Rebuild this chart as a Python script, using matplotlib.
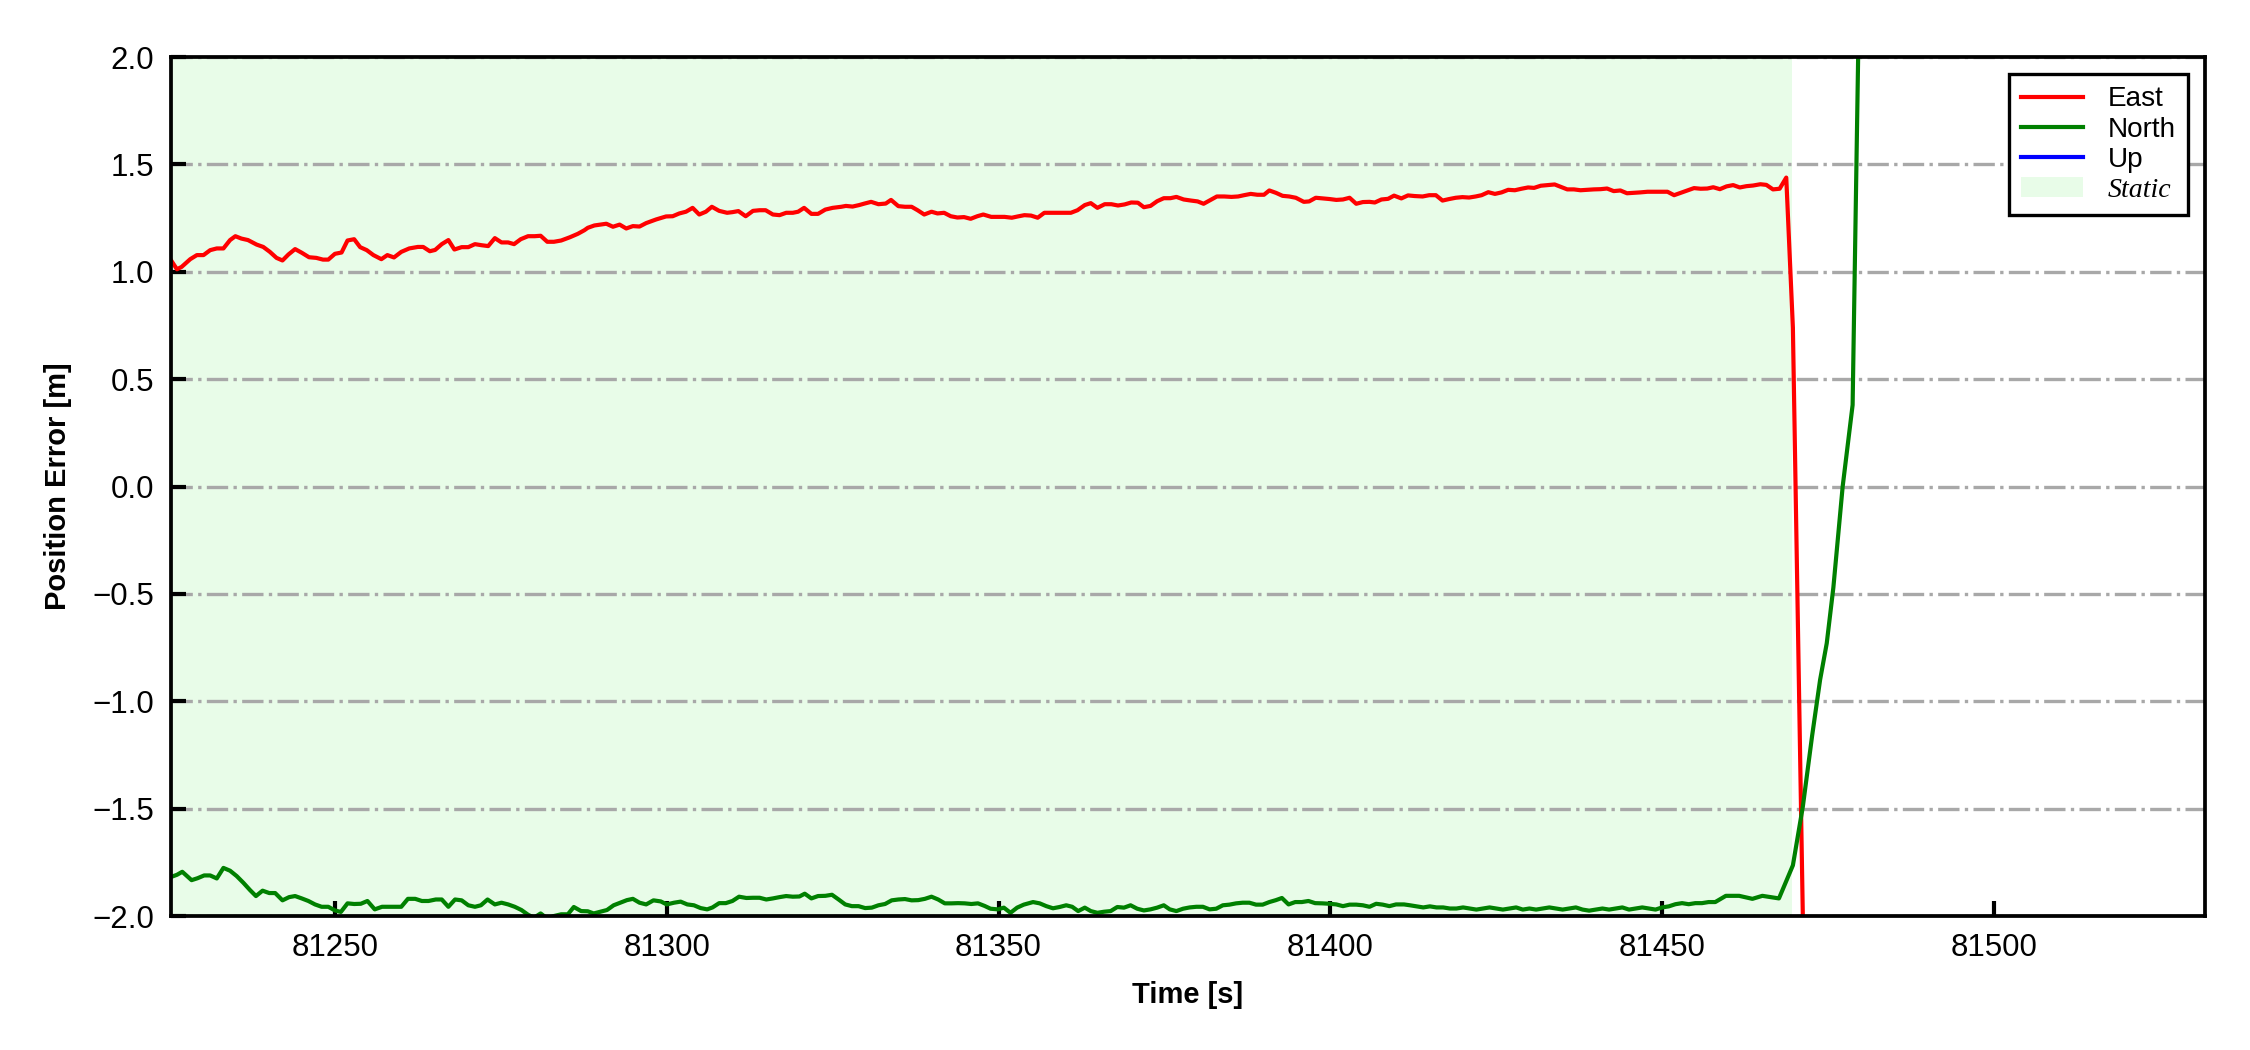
import matplotlib
matplotlib.use('Agg')
import matplotlib.pyplot as plt
import numpy as np

# ---- data ----
east_t = [81225.3, 81226.2, 81226.9, 81228.2, 81229.2, 81230.2, 81231.2, 81232.2, 81233.2, 81234.2,
          81235.0, 81235.9, 81236.9, 81238.2, 81239.2, 81240.2, 81241.2, 81242.1, 81243.0, 81244.0,
          81245.0, 81246.1, 81247.2, 81248.2, 81249.0, 81250.0, 81251.0, 81251.9, 81252.9, 81253.8,
          81254.8, 81255.8, 81257.0, 81257.9, 81258.9, 81260.0, 81261.2, 81262.5, 81263.3, 81264.3,
          81265.1, 81266.1, 81267.1, 81268.0, 81269.1, 81270.1, 81271.1, 81272.1, 81273.1, 81274.1,
          81275.1, 81276.1, 81277.0, 81278.0, 81279.1, 81280.1, 81281.0, 81282.0, 81283.0, 81284.1,
          81285.4, 81286.6, 81287.6, 81288.1, 81289.1, 81290.9, 81291.9, 81292.9, 81293.9, 81294.9,
          81295.9, 81296.9, 81298.4, 81299.9, 81300.9, 81301.9, 81302.9, 81303.9, 81304.9, 81305.9,
          81306.8, 81307.9, 81309.1, 81309.9, 81310.8, 81311.9, 81313.0, 81314.0, 81314.9, 81316.0,
          81317.0, 81318.0, 81319.0, 81319.8, 81320.7, 81321.8, 81322.8, 81323.9, 81325.0, 81326.3,
          81327.0, 81328.0, 81329.0, 81329.8, 81330.8, 81331.9, 81333.0, 81333.8, 81334.9, 81335.9,
          81336.9, 81337.8, 81338.8, 81339.9, 81340.8, 81341.8, 81342.8, 81343.8, 81344.8, 81345.8,
          81346.8, 81347.7, 81348.9, 81349.9, 81350.9, 81352.0, 81352.9, 81353.9, 81354.9, 81355.9,
          81356.9, 81357.9, 81358.9, 81359.9, 81360.9, 81361.9, 81363.0, 81363.9, 81364.9, 81366.0,
          81367.0, 81368.0, 81369.0, 81370.0, 81371.0, 81371.9, 81372.9, 81373.9, 81374.9, 81375.9,
          81376.8, 81377.9, 81379.0, 81380.0, 81380.9, 81381.9, 81382.9, 81384.0, 81385.1, 81386.1,
          81387.0, 81388.0, 81389.0, 81390.0, 81390.8, 81391.8, 81392.8, 81393.8, 81394.8, 81396.0,
          81396.8, 81397.8, 81398.9, 81399.9, 81400.9, 81401.9, 81402.9, 81403.9, 81404.9, 81405.9,
          81406.7, 81407.7, 81408.7, 81409.6, 81410.7, 81411.7, 81412.7, 81413.9, 81414.9, 81415.9,
          81416.9, 81417.9, 81418.9, 81419.9, 81420.9, 81421.9, 81422.8, 81423.8, 81424.8, 81425.8,
          81426.8, 81427.8, 81428.8, 81429.8, 81430.7, 81431.7, 81432.8, 81433.8, 81434.7, 81435.7,
          81436.7, 81437.7, 81438.7, 81439.7, 81440.7, 81441.7, 81442.7, 81443.7, 81444.7, 81445.7,
          81446.7, 81447.8, 81448.8, 81449.8, 81450.8, 81451.8, 81452.8, 81453.8, 81454.8, 81455.8,
          81456.8, 81457.7, 81458.7, 81459.7, 81460.7, 81461.7, 81462.7, 81463.7, 81464.8, 81465.7,
          81466.7, 81467.7, 81468.7, 81469.7, 81470.7, 81471.7, 81472.7]
east_e = [1.054, 1.012, 1.023, 1.059, 1.078, 1.078, 1.101, 1.109, 1.109, 1.148,
          1.166, 1.155, 1.148, 1.127, 1.116, 1.093, 1.065, 1.053, 1.081, 1.106,
          1.089, 1.068, 1.065, 1.057, 1.057, 1.084, 1.090, 1.146, 1.152, 1.115,
          1.101, 1.078, 1.059, 1.078, 1.067, 1.093, 1.109, 1.116, 1.116, 1.096,
          1.102, 1.129, 1.148, 1.104, 1.115, 1.115, 1.129, 1.124, 1.120, 1.157,
          1.137, 1.137, 1.129, 1.152, 1.166, 1.166, 1.168, 1.140, 1.140, 1.146,
          1.161, 1.177, 1.194, 1.205, 1.216, 1.224, 1.210, 1.220, 1.202, 1.213,
          1.211, 1.227, 1.244, 1.258, 1.259, 1.272, 1.280, 1.298, 1.267, 1.280,
          1.303, 1.284, 1.275, 1.278, 1.283, 1.259, 1.284, 1.287, 1.287, 1.267,
          1.264, 1.275, 1.275, 1.280, 1.298, 1.270, 1.270, 1.290, 1.298, 1.303,
          1.307, 1.304, 1.311, 1.318, 1.326, 1.315, 1.318, 1.335, 1.306, 1.303,
          1.303, 1.287, 1.267, 1.280, 1.272, 1.275, 1.259, 1.253, 1.255, 1.247,
          1.259, 1.267, 1.256, 1.256, 1.256, 1.252, 1.258, 1.264, 1.262, 1.252,
          1.275, 1.275, 1.275, 1.275, 1.275, 1.287, 1.311, 1.320, 1.298, 1.315,
          1.315, 1.309, 1.314, 1.323, 1.322, 1.301, 1.307, 1.329, 1.343, 1.343,
          1.349, 1.337, 1.332, 1.328, 1.317, 1.334, 1.351, 1.351, 1.349, 1.351,
          1.357, 1.363, 1.359, 1.359, 1.379, 1.368, 1.354, 1.351, 1.345, 1.326,
          1.328, 1.345, 1.342, 1.339, 1.335, 1.337, 1.345, 1.317, 1.325, 1.326,
          1.323, 1.337, 1.340, 1.355, 1.342, 1.356, 1.353, 1.351, 1.357, 1.357,
          1.332, 1.339, 1.345, 1.348, 1.346, 1.351, 1.357, 1.371, 1.363, 1.370,
          1.382, 1.380, 1.387, 1.393, 1.391, 1.401, 1.404, 1.407, 1.396, 1.384,
          1.384, 1.380, 1.382, 1.384, 1.385, 1.388, 1.376, 1.379, 1.366, 1.368,
          1.370, 1.373, 1.373, 1.373, 1.373, 1.357, 1.368, 1.379, 1.390, 1.387,
          1.388, 1.394, 1.385, 1.398, 1.404, 1.393, 1.399, 1.402, 1.408, 1.405,
          1.384, 1.387, 1.439, 0.740, -1.090, -2.920, -4.750]

north_t = [81225.4, 81226.2, 81227.0, 81228.4, 81229.3, 81230.3, 81231.2, 81232.2, 81233.2, 81234.2,
           81235.2, 81236.2, 81237.2, 81238.1, 81239.1, 81240.1, 81241.0, 81242.1, 81243.1, 81244.0,
           81245.0, 81246.0, 81247.0, 81248.0, 81249.0, 81250.0, 81250.9, 81251.9, 81252.9, 81253.9,
           81254.9, 81256.0, 81257.1, 81258.1, 81259.1, 81260.0, 81261.0, 81262.1, 81263.1, 81264.1,
           81265.2, 81266.1, 81267.1, 81268.1, 81269.1, 81270.1, 81271.1, 81272.0, 81273.0, 81274.1,
           81275.1, 81276.1, 81277.1, 81278.1, 81279.1, 81280.0, 81281.0, 81282.0, 81283.0, 81284.1,
           81285.1, 81286.0, 81287.1, 81288.1, 81289.0, 81290.0, 81291.0, 81292.0, 81293.0, 81294.0,
           81294.9, 81295.9, 81296.9, 81298.0, 81299.1, 81300.0, 81301.1, 81302.1, 81303.1, 81304.1,
           81305.1, 81306.1, 81306.9, 81307.9, 81308.9, 81309.9, 81310.9, 81312.0, 81313.0, 81314.0,
           81315.0, 81316.0, 81317.0, 81318.0, 81319.0, 81320.0, 81320.8, 81321.8, 81322.8, 81323.9,
           81324.9, 81325.9, 81326.9, 81327.9, 81328.9, 81329.9, 81330.9, 81331.9, 81332.9, 81333.9,
           81334.9, 81335.9, 81336.9, 81337.9, 81338.9, 81339.9, 81340.9, 81341.9, 81342.9, 81343.9,
           81344.9, 81345.9, 81346.9, 81347.9, 81348.8, 81349.9, 81350.8, 81351.8, 81352.8, 81353.8,
           81355.2, 81356.2, 81357.2, 81358.2, 81359.2, 81360.2, 81361.1, 81362.0, 81363.0, 81363.9,
           81364.9, 81365.9, 81366.9, 81367.9, 81368.9, 81369.9, 81370.9, 81371.9, 81372.9, 81373.9,
           81374.9, 81375.8, 81376.8, 81377.8, 81378.8, 81379.8, 81380.8, 81381.8, 81382.8, 81383.8,
           81384.8, 81385.8, 81386.8, 81387.8, 81388.8, 81389.8, 81390.8, 81391.8, 81392.7, 81393.7,
           81394.7, 81395.7, 81396.7, 81397.7, 81398.8, 81399.9, 81400.9, 81401.9, 81402.9, 81403.9,
           81404.9, 81405.9, 81406.9, 81407.9, 81408.9, 81409.9, 81411.1, 81412.0, 81413.0, 81414.0,
           81415.0, 81416.0, 81417.0, 81418.0, 81419.0, 81420.0, 81421.0, 81422.0, 81423.0, 81424.0,
           81425.0, 81426.0, 81427.0, 81428.0, 81429.0, 81430.0, 81431.0, 81432.0, 81433.0, 81434.0,
           81435.0, 81436.0, 81437.0, 81438.0, 81439.0, 81440.0, 81441.0, 81442.0, 81443.0, 81444.0,
           81445.0, 81446.0, 81447.0, 81448.0, 81449.0, 81450.0, 81451.0, 81452.0, 81453.0, 81454.0,
           81455.0, 81456.0, 81457.0, 81458.0, 81459.6, 81461.6, 81463.6, 81465.1, 81467.6, 81469.7,
           81471.2, 81472.6, 81473.8, 81474.8, 81475.8, 81477.2, 81478.7, 81480.2]
north_e = [-1.817, -1.808, -1.794, -1.833, -1.824, -1.811, -1.811, -1.825, -1.776, -1.789,
           -1.814, -1.845, -1.879, -1.907, -1.882, -1.893, -1.893, -1.927, -1.912, -1.907,
           -1.918, -1.930, -1.946, -1.957, -1.957, -1.974, -1.981, -1.941, -1.944, -1.943,
           -1.930, -1.969, -1.957, -1.957, -1.957, -1.957, -1.920, -1.920, -1.930, -1.930,
           -1.923, -1.923, -1.957, -1.923, -1.927, -1.950, -1.957, -1.950, -1.923, -1.946,
           -1.938, -1.946, -1.957, -1.972, -1.994, -2.008, -1.988, -2.012, -2.000, -1.992,
           -1.992, -1.958, -1.977, -1.978, -1.988, -1.980, -1.972, -1.950, -1.938, -1.926,
           -1.920, -1.938, -1.946, -1.927, -1.932, -1.946, -1.938, -1.933, -1.946, -1.950,
           -1.963, -1.969, -1.960, -1.940, -1.940, -1.930, -1.910, -1.916, -1.915, -1.915,
           -1.923, -1.918, -1.912, -1.907, -1.910, -1.909, -1.896, -1.918, -1.907, -1.906,
           -1.901, -1.923, -1.946, -1.954, -1.954, -1.963, -1.961, -1.950, -1.944, -1.927,
           -1.923, -1.921, -1.927, -1.926, -1.920, -1.910, -1.923, -1.941, -1.941, -1.940,
           -1.941, -1.944, -1.941, -1.953, -1.966, -1.969, -1.961, -1.985, -1.961, -1.947,
           -1.935, -1.941, -1.954, -1.964, -1.958, -1.950, -1.957, -1.977, -1.961, -1.977,
           -1.985, -1.980, -1.977, -1.958, -1.961, -1.950, -1.966, -1.974, -1.969, -1.961,
           -1.950, -1.969, -1.977, -1.966, -1.960, -1.957, -1.957, -1.969, -1.966, -1.950,
           -1.947, -1.941, -1.938, -1.938, -1.947, -1.947, -1.935, -1.926, -1.916, -1.946,
           -1.935, -1.935, -1.930, -1.940, -1.941, -1.943, -1.946, -1.954, -1.947, -1.947,
           -1.950, -1.957, -1.943, -1.947, -1.954, -1.946, -1.946, -1.950, -1.955, -1.960,
           -1.955, -1.960, -1.960, -1.965, -1.965, -1.960, -1.965, -1.970, -1.965, -1.960,
           -1.965, -1.970, -1.965, -1.960, -1.970, -1.965, -1.970, -1.965, -1.960, -1.965,
           -1.970, -1.965, -1.960, -1.970, -1.975, -1.970, -1.965, -1.970, -1.965, -1.960,
           -1.970, -1.965, -1.960, -1.965, -1.970, -1.960, -1.955, -1.945, -1.940, -1.945,
           -1.940, -1.940, -1.935, -1.935, -1.906, -1.906, -1.920, -1.906, -1.918, -1.764,
           -1.490, -1.160, -0.900, -0.730, -0.470, 0.000, 0.380, 3.300]

# Up stays outside the plotted range; only its legend entry is shown
up_t = []
up_e = []

static_start = 81225.0
static_end = 81469.6

plt.rcParams['font.family'] = ['Liberation Sans', 'DejaVu Sans']

fig = plt.figure(figsize=(7.5, 3.5), dpi=300)
ax = fig.add_axes([0.076, 0.1276, 0.904, 0.818])

ax.axvspan(static_start, static_end, color='#e8fce8', lw=0, label='Static', zorder=0)
ax.plot(east_t, east_e, color='red', lw=1.0, label='East')
ax.plot(north_t, north_e, color='green', lw=1.0, label='North')
ax.plot(up_t, up_e, color='blue', lw=1.0, label='Up')

ax.set_xlim(81225.3, 81531.8)
ax.set_ylim(-2.0, 2.0)
ax.set_xticks([81250, 81300, 81350, 81400, 81450, 81500])
ax.set_yticks(np.arange(-2.0, 2.01, 0.5))
ax.yaxis.set_major_formatter(matplotlib.ticker.FuncFormatter(lambda v, p: f'{v:.1f}'.replace('-', '\u2212')))

ax.grid(axis='y', linestyle='-.', color='#a8a8a8', lw=0.8)
ax.tick_params(direction='in', length=3.5, width=1.0, labelsize=7.5, pad=4)
for s in ax.spines.values():
    s.set_linewidth(0.9)

ax.set_xlabel('Time [s]', fontsize=7, fontweight='bold', labelpad=4.5)
ax.set_ylabel('Position Error [m]', fontsize=7, fontweight='bold', labelpad=5)

handles, labels = ax.get_legend_handles_labels()
order = [labels.index(k) for k in ['East', 'North', 'Up', 'Static']]
leg = ax.legend([handles[i] for i in order], [labels[i] for i in order],
                loc='upper right', fontsize=6.7, fancybox=False, framealpha=1,
                edgecolor='black', handlelength=2.2, labelspacing=0.15,
                borderaxespad=0.6, borderpad=0.45, handletextpad=0.9)
leg.get_frame().set_linewidth(0.8)
st = leg.get_texts()[3]
st.set_fontfamily(['Liberation Serif', 'DejaVu Serif'])
st.set_fontstyle('italic')

fig.savefig('out.png', dpi=300)
